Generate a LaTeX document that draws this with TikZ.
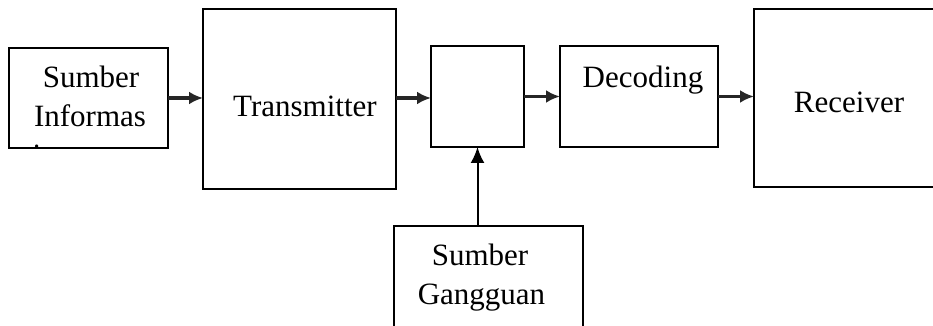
\documentclass[tikz,border=0pt]{standalone}
\usepackage{fontspec}
\setmainfont{Liberation Serif}
\usetikzlibrary{arrows.meta,positioning}

\begin{document}
\begin{tikzpicture}[x=0.5pt,y=-0.5pt,
  blok/.style={draw=black,line width=1pt,inner sep=0pt,outer sep=0pt},
  teks/.style={font=\fontsize{15.5}{18.5}\selectfont,anchor=base,inner sep=0pt},
  panah/.style={draw=black!85,line width=1.7pt,-{Latex[length=7pt,width=6.5pt]}},
  panahnaik/.style={draw=black,line width=1pt,-{Latex[length=8pt,width=7pt]}}]
\useasboundingbox (0,0) rectangle (933,326);
\clip (0,0) rectangle (933,326);

\node[blok,minimum width=79.5pt,minimum height=50pt] (src) at (88.5,98) {};
\node[blok,minimum width=96.5pt,minimum height=90pt] (tx) at (299.5,99) {};
\node[blok,minimum width=46.5pt,minimum height=50.5pt] (ch) at (477.5,96.5) {};
\node[blok,minimum width=79pt,minimum height=50.5pt] (dec) at (639,96.5) {};
\node[blok,minimum width=108pt,minimum height=89pt] (rx) at (862,98) {};
\node[blok,minimum width=94.5pt,minimum height=59.5pt] (ns) at (488.5,285.5) {};

% teks dalam blok
\node[teks] (src1) at (91,88) {Sumber};
\node[teks] (src2) at (90,127) {Informas};
\begin{scope}
\clip (src.south west) rectangle (src.north east);
\node[teks] (src3) at (37,166) {i};
\end{scope}
\node[teks] (txt) at (305,117) {Transmitter};
\node[teks] (dect) at (643,88) {Decoding};
\node[teks] (rxt) at (849,113) {Receiver};
\node[teks] (ns1) at (480,265) {Sumber};
\node[teks] (ns2) at (481.5,305) {Gangguan};

\draw[panah] (src.east) -- (src.east -| tx.west);
\draw[panah] (tx.east |- src.east) -- (ch.west |- src.east);
\draw[panah] (ch.east) -- (ch.east -| dec.west);
\draw[panah] (dec.east) -- (dec.east -| rx.west);
\draw[panahnaik] (ns.north -| ch.south) -- (ch.south);
\end{tikzpicture}
\end{document}
